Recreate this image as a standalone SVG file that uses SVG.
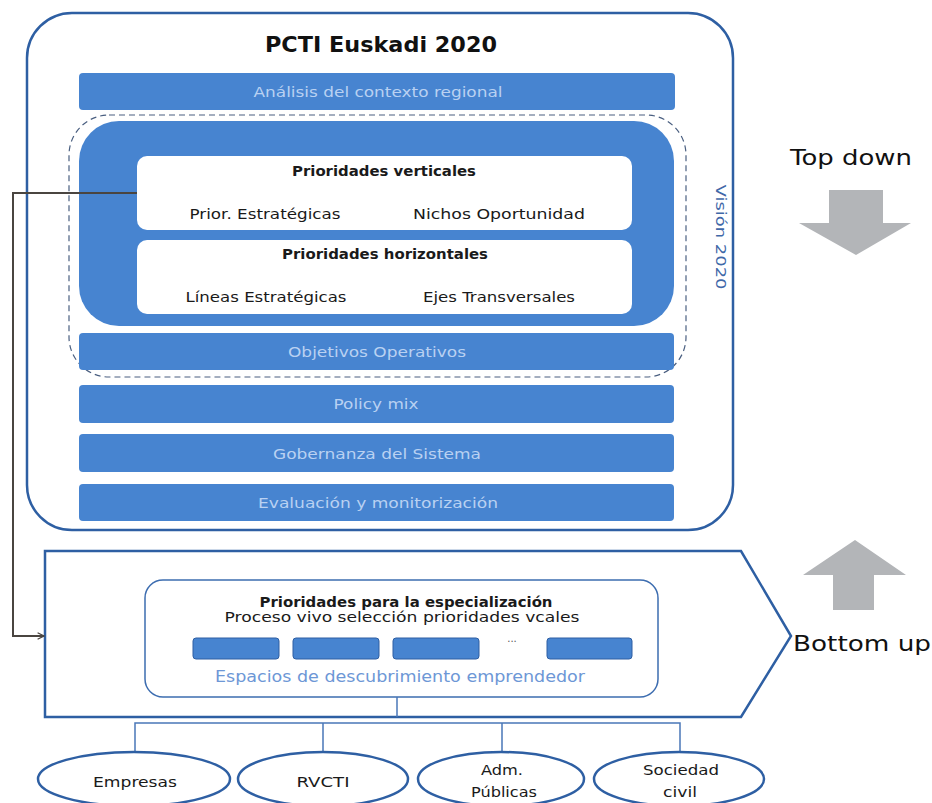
<svg xmlns="http://www.w3.org/2000/svg" width="932" height="803" viewBox="0 0 932 803">
<defs>
<style>
.frame{fill:#fff;stroke:#2e5fa3;stroke-width:2.5}
.bar{fill:#4784d0}
.bartxt{font-family:"DejaVu Sans","Open Sans",sans-serif;font-size:14.5px;fill:#b9d1f2;text-anchor:middle}
.wbox{fill:#fff;stroke:none}
.blk{font-family:"DejaVu Sans","Open Sans",sans-serif;font-size:14.5px;fill:#1a1a1a;text-anchor:middle}
.bold{font-weight:bold}
.ell{fill:#fff;stroke:#2e5fa3;stroke-width:2.5}
.thin{fill:none;stroke:#4a77b8;stroke-width:1.5}
.gray{fill:#b3b5b8}
.big{font-family:"DejaVu Sans","Open Sans",sans-serif;font-size:22px;fill:#111;text-anchor:middle}
</style>
<marker id="arr" viewBox="0 0 10 10" refX="9" refY="5" markerWidth="8" markerHeight="8" orient="auto" markerUnits="userSpaceOnUse">
<path d="M1,1 L9,5 L1,9" fill="none" stroke="#4a4540" stroke-width="1.6"/>
</marker>
</defs>
<rect width="932" height="803" fill="#fff"/>

<g id="pcti">
<rect class="frame" x="27" y="13" width="706" height="517" rx="45"/>
<text x="381" y="52" font-family="'DejaVu Sans','Open Sans',sans-serif" font-size="21" font-weight="bold" text-anchor="middle" fill="#111" textLength="232" lengthAdjust="spacingAndGlyphs">PCTI Euskadi 2020</text>
</g>

<g id="analisis">
<rect class="bar" x="79" y="73" width="596" height="37" rx="4"/>
<text class="bartxt" x="378" y="97" textLength="249" lengthAdjust="spacingAndGlyphs">Análisis del contexto regional</text>
</g>

<g id="vision">
<rect x="69" y="115" width="617" height="262" rx="40" fill="none" stroke="#4a5f80" stroke-width="1.2" stroke-dasharray="6,4"/>
<text x="716" y="237" font-family="'DejaVu Sans','Open Sans',sans-serif" font-size="14" fill="#3f68a8" text-anchor="middle" transform="rotate(90 716 237)" textLength="105" lengthAdjust="spacingAndGlyphs">Visión 2020</text>
</g>

<g id="prioridades">
<rect class="bar" x="79" y="121" width="595" height="205" rx="40"/>
</g>

<g id="verticales">
<rect class="wbox" x="137" y="156" width="495" height="74" rx="10"/>
<text class="blk bold" x="384" y="176" textLength="184" lengthAdjust="spacingAndGlyphs">Prioridades verticales</text>
<text class="blk" x="265" y="219" textLength="151" lengthAdjust="spacingAndGlyphs">Prior. Estratégicas</text>
<text class="blk" x="499" y="219" textLength="172" lengthAdjust="spacingAndGlyphs">Nichos Oportunidad</text>
</g>

<g id="horizontales">
<rect class="wbox" x="137" y="240" width="495" height="74" rx="10"/>
<text class="blk bold" x="385" y="259" textLength="206" lengthAdjust="spacingAndGlyphs">Prioridades horizontales</text>
<text class="blk" x="266" y="302" textLength="161" lengthAdjust="spacingAndGlyphs">Líneas Estratégicas</text>
<text class="blk" x="499" y="302" textLength="152" lengthAdjust="spacingAndGlyphs">Ejes Transversales</text>
</g>

<g id="objetivos">
<rect class="bar" x="79" y="333" width="595" height="37" rx="4"/>
<text class="bartxt" x="377" y="357" textLength="178" lengthAdjust="spacingAndGlyphs">Objetivos Operativos</text>
</g>
<g id="policy">
<rect class="bar" x="79" y="385" width="595" height="38" rx="4"/>
<text class="bartxt" x="376" y="409" textLength="85" lengthAdjust="spacingAndGlyphs">Policy mix</text>
</g>
<g id="gobernanza">
<rect class="bar" x="79" y="434" width="595" height="38" rx="4"/>
<text class="bartxt" x="377" y="459" textLength="208" lengthAdjust="spacingAndGlyphs">Gobernanza del Sistema</text>
</g>
<g id="evaluacion">
<rect class="bar" x="79" y="484" width="595" height="37" rx="4"/>
<text class="bartxt" x="378" y="508" textLength="240" lengthAdjust="spacingAndGlyphs">Evaluación y monitorización</text>
</g>

<g id="bottomup">
<path d="M45,551 H741 L791,636 L741,717 H45 Z" fill="#fff" stroke="#2e5fa3" stroke-width="2.5"/>
</g>

<g id="especializacion">
<rect x="145" y="580" width="513" height="117" rx="18" fill="#fff" stroke="#3d6db0" stroke-width="1.5"/>
<text class="blk bold" x="406" y="607" font-size="13.5" textLength="293" lengthAdjust="spacingAndGlyphs">Prioridades para la especialización</text>
<text class="blk" x="402" y="622" font-size="14" textLength="355" lengthAdjust="spacingAndGlyphs">Proceso vivo selección prioridades vcales</text>
<rect x="193" y="638" width="86" height="21" rx="3" fill="#4784d0" stroke="#2e5fa3" stroke-width="1"/>
<rect x="293" y="638" width="86" height="21" rx="3" fill="#4784d0" stroke="#2e5fa3" stroke-width="1"/>
<rect x="393" y="638" width="86" height="21" rx="3" fill="#4784d0" stroke="#2e5fa3" stroke-width="1"/>
<text x="512" y="642" font-family="'DejaVu Sans','Open Sans',sans-serif" font-size="10" fill="#555" text-anchor="middle">...</text>
<rect x="547" y="638" width="85" height="21" rx="3" fill="#4784d0" stroke="#2e5fa3" stroke-width="1"/>
<text x="400" y="682" font-family="'DejaVu Sans','Open Sans',sans-serif" font-size="15" fill="#6d97d6" text-anchor="middle" textLength="370" lengthAdjust="spacingAndGlyphs">Espacios de descubrimiento emprendedor</text>
</g>

<g id="connectors">
<path d="M137,193 H13 V636 H44" fill="none" stroke="#4a4540" stroke-width="2" marker-end="url(#arr)"/>
<path class="thin" d="M397,697 V717"/>
<path class="thin" d="M135,752 V723 H680 V752 M323,723 V752 M502,723 V752"/>
</g>

<g id="empresas">
<ellipse class="ell" cx="134" cy="779" rx="96" ry="27"/>
<text class="blk" x="135" y="787" textLength="84" lengthAdjust="spacingAndGlyphs">Empresas</text>
</g>
<g id="rvcti">
<ellipse class="ell" cx="323" cy="779" rx="85" ry="27"/>
<text class="blk" x="323" y="787" textLength="53" lengthAdjust="spacingAndGlyphs">RVCTI</text>
</g>
<g id="adm">
<ellipse class="ell" cx="501" cy="779" rx="83" ry="27"/>
<text class="blk" x="502" y="775" textLength="42" lengthAdjust="spacingAndGlyphs">Adm.</text>
<text class="blk" x="504" y="797" textLength="66" lengthAdjust="spacingAndGlyphs">Públicas</text>
</g>
<g id="sociedad">
<ellipse class="ell" cx="679" cy="779" rx="85" ry="27"/>
<text class="blk" x="681" y="775" textLength="76" lengthAdjust="spacingAndGlyphs">Sociedad</text>
<text class="blk" x="680" y="797" textLength="34" lengthAdjust="spacingAndGlyphs">civil</text>
</g>

<g id="topdown">
<text class="big" x="851" y="165" textLength="122" lengthAdjust="spacingAndGlyphs">Top down</text>
<path class="gray" d="M829,190 H883 V223 H911 L856,255 L799,223 H829 Z"/>
</g>
<g id="bottomuptxt">
<text class="big" x="862" y="651" textLength="138" lengthAdjust="spacingAndGlyphs">Bottom up</text>
<path class="gray" d="M855,540 L906,575 H874 V610 H833 V575 H803 Z"/>
</g>
</svg>
